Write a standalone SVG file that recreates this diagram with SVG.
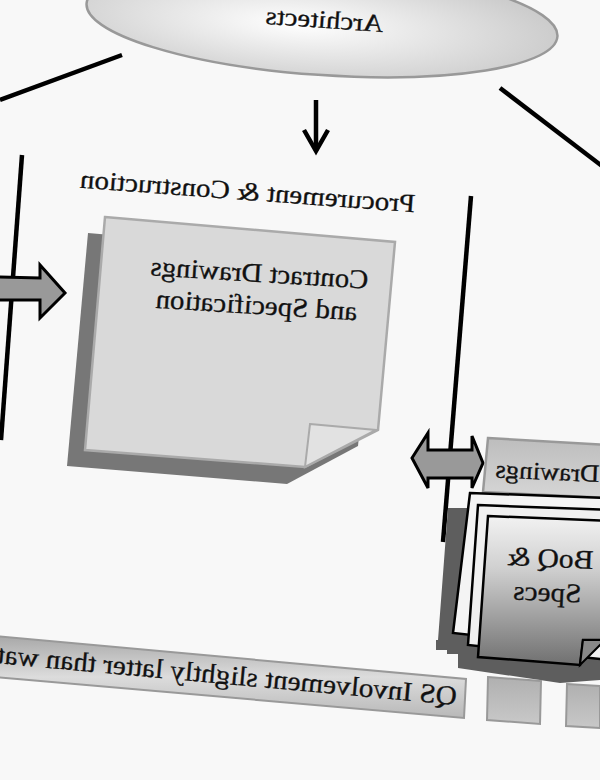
<svg xmlns="http://www.w3.org/2000/svg" width="600" height="780" viewBox="0 0 600 780">
<defs>
<radialGradient id="gEll" cx="0.45" cy="0.55" r="0.6">
<stop offset="0" stop-color="#ffffff"/><stop offset="1" stop-color="#c8c8c8"/>
</radialGradient>
<linearGradient id="gBar" x1="0" y1="0" x2="0" y2="1">
<stop offset="0" stop-color="#a8a8a8"/><stop offset="0.5" stop-color="#dcdcdc"/><stop offset="1" stop-color="#b8b8b8"/>
</linearGradient>
<linearGradient id="gFront" x1="0" y1="0" x2="0" y2="1">
<stop offset="0" stop-color="#f2f2f2"/><stop offset="0.35" stop-color="#d0d0d0"/><stop offset="1" stop-color="#707070"/>
</linearGradient>
<linearGradient id="gSq" x1="0" y1="0" x2="0" y2="1">
<stop offset="0" stop-color="#b0b0b0"/><stop offset="1" stop-color="#c8c8c8"/>
</linearGradient>
<linearGradient id="gDraw" x1="0" y1="0" x2="0" y2="1">
<stop offset="0" stop-color="#bdbdbd"/><stop offset="1" stop-color="#d6d6d6"/>
</linearGradient>
</defs>
<style>
.t{font-family:"Liberation Serif","Times New Roman",serif;fill:#111;stroke:#111;stroke-width:0.3}
.ln{stroke:#000;stroke-width:4.5;fill:none;stroke-linecap:butt}
.blk{fill:#999;stroke:#000;stroke-width:3;stroke-linejoin:miter}
.card{stroke:#000;stroke-width:2.5}
</style>
<rect x="0" y="0" width="600" height="780" fill="#f8f8f8"/>

<g id="connectors">
<line class="ln" x1="122" y1="55" x2="0" y2="100"/>
<line class="ln" x1="500" y1="88" x2="602" y2="166"/>
<line class="ln" x1="316" y1="100" x2="316" y2="150"/>
<polyline class="ln" points="304,130 316,151 328,130" stroke-linejoin="miter"/>
<line class="ln" x1="22" y1="155" x2="1" y2="440"/>
<line class="ln" x1="471" y1="196" x2="443" y2="542"/>
<path class="blk" d="M-5,277 L40,278 L40,265 L65,293 L40,318 L40,300 L-5,300 Z"/>
<path class="blk" d="M412,458 L428,433 L428,450 L472,450 L472,436 L483,463 L472,488 L472,478 L428,478 L428,488 Z"/>
</g>

<g id="architects">
<ellipse cx="322" cy="20" rx="236" ry="55" transform="rotate(4 322 20)" fill="url(#gEll)" stroke="#999" stroke-width="2.5"/>
<text class="t" font-size="25" text-anchor="middle" textLength="118" lengthAdjust="spacingAndGlyphs" transform="translate(324,28) rotate(4) scale(-1,1)">Architects</text>
</g>

<g id="procurement-label">
<text class="t" font-size="26" text-anchor="middle" textLength="336" lengthAdjust="spacingAndGlyphs" transform="translate(247,200) rotate(4.2) scale(-1,1)">Procurement &amp; Construction</text>
</g>

<g id="contract-card">
<polygon points="88,233 377,258 358,446 287,484 67,466" fill="#777"/>
<polygon points="105,217 395,242 378,430 305,467 85,450" fill="#d9d9d9" stroke="#aaa" stroke-width="2.5"/>
<polygon points="310,424 376,430 305,467" fill="#e2e2e2" stroke="#aaa" stroke-width="2"/>
<text class="t" font-size="27" text-anchor="middle" textLength="218" lengthAdjust="spacingAndGlyphs" transform="translate(259,282) rotate(3.5) scale(-1,1)">Contract Drawings</text>
<text class="t" font-size="27" text-anchor="middle" textLength="202" lengthAdjust="spacingAndGlyphs" transform="translate(256,314) rotate(3.5) scale(-1,1)">and Specification</text>
</g>

<g id="drawings-card">
<polygon points="488,438 610,445 610,498 483,492" fill="url(#gDraw)" stroke="#999" stroke-width="2.5"/>
<text class="t" font-size="25" text-anchor="start" textLength="104" lengthAdjust="spacingAndGlyphs" transform="translate(599,482) rotate(2.5) scale(-1,1)">Drawings</text>
</g>

<g id="boq-stack">
<polygon points="448,508 470,508 470,640 600,652 600,680 560,683 458,668 458,654 447,654 447,650 436,650 436,640 438,640" fill="#5e5e5e"/>
<polygon class="card" points="470,493 610,498 610,650 453,633" fill="#f4f4f4"/>
<polygon class="card" points="478,505 610,510 610,660 468,645" fill="#f0f0f0"/>
<polygon class="card" points="488,516 610,521 610,640 583,640 580,665 478,657" fill="url(#gFront)"/>
<polygon points="583,640 605,640 580,665" fill="#888" stroke="#000" stroke-width="2"/>
<text class="t" font-size="27" text-anchor="middle" textLength="86" lengthAdjust="spacingAndGlyphs" transform="translate(550,567) rotate(2.5) scale(-1,1)">BoQ &amp;</text>
<text class="t" font-size="27" text-anchor="middle" textLength="68" lengthAdjust="spacingAndGlyphs" transform="translate(547,601) rotate(2.5) scale(-1,1)">Specs</text>
</g>

<g id="qs-banner">
<polygon points="-5,636 466,679 464,718 -5,677" fill="url(#gBar)" stroke="#999" stroke-width="2"/>
<text class="t" font-size="27" text-anchor="start" textLength="462" lengthAdjust="spacingAndGlyphs" transform="translate(456,705) rotate(5.2) scale(-1,1)">QS Involvement slightly latter than wat</text>
</g>

<g id="squares">
<polygon points="488,677 541,681 540,724 487,720" fill="url(#gSq)" stroke="#999" stroke-width="2"/>
<polygon points="567,684 600,686 600,728 566,726" fill="url(#gSq)" stroke="#999" stroke-width="2"/>
</g>
</svg>
